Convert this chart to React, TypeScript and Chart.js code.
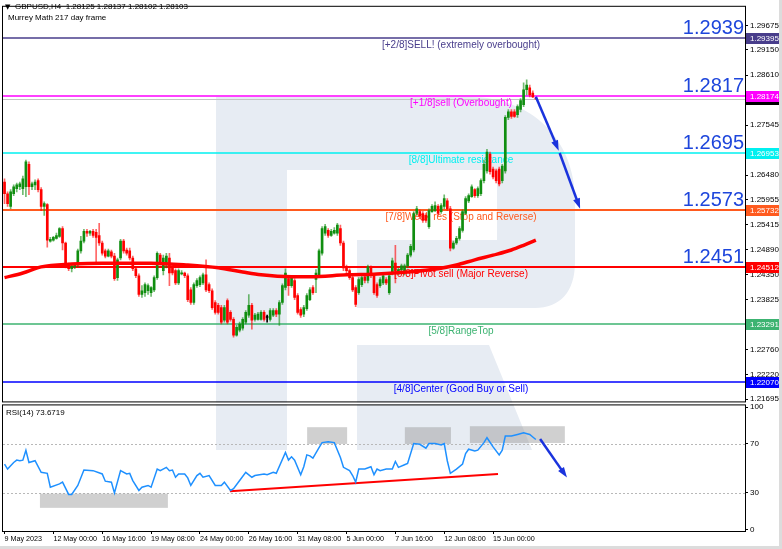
import React, { useEffect, useRef } from 'react';
import { Chart, registerables } from 'chart.js';

Chart.register(...registerables);

// ---------------- data ----------------
const symbolTitle = 'GBPUSD,H4  1.28125 1.28137 1.28102 1.28103';
const indicatorTitle = 'Murrey Math 217 day frame';
const rsiTitle = 'RSI(14) 73.6719';

const timeLabels = ['9 May 2023', '12 May 00:00', '16 May 16:00', '19 May 08:00', '24 May 00:00', '26 May 16:00', '31 May 08:00', '5 Jun 00:00', '7 Jun 16:00', '12 Jun 08:00', '15 Jun 00:00'];
const labelStep = 16;
const slotCount = 243;

const open = [
  1.2633, 1.2608, 1.2581, 1.2608, 1.2619, 1.2623, 1.2619, 1.2623, 1.2671, 1.2623,
  1.2627, 1.2636, 1.2617, 1.2581, 1.2585, 1.2507, 1.2509, 1.2513, 1.2517, 1.2534,
  1.2503, 1.2456, 1.2448, 1.2452, 1.2456, 1.2486, 1.2507, 1.2528, 1.2524, 1.2528,
  1.2526, 1.2519, 1.2503, 1.2486, 1.2475, 1.2484, 1.2475, 1.2429, 1.2471, 1.2507,
  1.2488, 1.2486, 1.2471, 1.2448, 1.2433, 1.2393, 1.2397, 1.2401, 1.2397, 1.2403,
  1.2429, 1.2477, 1.2444, 1.2456, 1.2471, 1.2450, 1.2444, 1.2418, 1.2437, 1.2439,
  1.2433, 1.2403, 1.2376, 1.2412, 1.2414, 1.2418, 1.2435, 1.2414, 1.2401, 1.2376,
  1.2370, 1.2365, 1.2338, 1.2380, 1.2355, 1.2340, 1.2306, 1.2317, 1.2321, 1.2334,
  1.2349, 1.2370, 1.2340, 1.2340, 1.2340, 1.2355, 1.2344, 1.2340, 1.2349, 1.2359,
  1.2351, 1.2376, 1.2408, 1.2427, 1.2412, 1.2423, 1.2391, 1.2361, 1.2351, 1.2363,
  1.2382, 1.2408, 1.2425, 1.2433, 1.2481, 1.2524, 1.2530, 1.2519, 1.2524, 1.2524,
  1.2534, 1.2503, 1.2450, 1.2444, 1.2429, 1.2408, 1.2397, 1.2414, 1.2431, 1.2423,
  1.2450, 1.2433, 1.2414, 1.2412, 1.2418, 1.2425, 1.2397, 1.2439, 1.2460, 1.2439,
  1.2446, 1.2439, 1.2454, 1.2477, 1.2488, 1.2566, 1.2570, 1.2566, 1.2562, 1.2538,
  1.2570, 1.2572, 1.2581, 1.2570, 1.2581, 1.2593, 1.2576, 1.2492, 1.2503, 1.2513,
  1.2530, 1.2566, 1.2593, 1.2602, 1.2617, 1.2604, 1.2608, 1.2636, 1.2657, 1.2693,
  1.2661, 1.2657, 1.2661, 1.2636, 1.2657, 1.2771, 1.2783, 1.2783, 1.2777, 1.2788,
  1.2798, 1.2830, 1.2834, 1.2823, 1.28125,
];
const high = [
  1.2640, 1.2612, 1.2617, 1.2627, 1.2631, 1.2633, 1.2646, 1.2680, 1.2676, 1.2633,
  1.2638, 1.2640, 1.2621, 1.2591, 1.2587, 1.2515, 1.2517, 1.2524, 1.2536, 1.2538,
  1.2505, 1.2460, 1.2456, 1.2460, 1.2490, 1.2517, 1.2532, 1.2532, 1.2530, 1.2532,
  1.2532, 1.2545, 1.2507, 1.2490, 1.2490, 1.2488, 1.2481, 1.2471, 1.2511, 1.2511,
  1.2492, 1.2492, 1.2475, 1.2452, 1.2437, 1.2412, 1.2418, 1.2416, 1.2410, 1.2433,
  1.2484, 1.2481, 1.2477, 1.2481, 1.2481, 1.2454, 1.2448, 1.2448, 1.2444, 1.2441,
  1.2437, 1.2408, 1.2418, 1.2427, 1.2433, 1.2439, 1.2467, 1.2418, 1.2405, 1.2380,
  1.2374, 1.2370, 1.2370, 1.2384, 1.2359, 1.2344, 1.2327, 1.2334, 1.2344, 1.2359,
  1.2393, 1.2374, 1.2353, 1.2355, 1.2359, 1.2359, 1.2349, 1.2363, 1.2363, 1.2363,
  1.2380, 1.2416, 1.2448, 1.2431, 1.2433, 1.2427, 1.2395, 1.2365, 1.2370, 1.2395,
  1.2408, 1.2412, 1.2446, 1.2490, 1.2538, 1.2543, 1.2534, 1.2532, 1.2536, 1.2545,
  1.2541, 1.2507, 1.2456, 1.2448, 1.2433, 1.2412, 1.2429, 1.2433, 1.2435, 1.2456,
  1.2454, 1.2437, 1.2418, 1.2429, 1.2437, 1.2429, 1.2437, 1.2471, 1.2498, 1.2450,
  1.2458, 1.2458, 1.2481, 1.2500, 1.2570, 1.2581, 1.2574, 1.2570, 1.2566, 1.2576,
  1.2585, 1.2591, 1.2585, 1.2587, 1.2606, 1.2598, 1.2581, 1.2507, 1.2517, 1.2538,
  1.2574, 1.2602, 1.2608, 1.2627, 1.2619, 1.2623, 1.2640, 1.2680, 1.2703, 1.2697,
  1.2665, 1.2661, 1.2665, 1.2671, 1.2775, 1.2788, 1.2788, 1.2788, 1.2798, 1.2811,
  1.2845, 1.2851, 1.2840, 1.2828, 1.28137,
];
const low = [
  1.2587, 1.2581, 1.2576, 1.2604, 1.2612, 1.2617, 1.2606, 1.2602, 1.2606, 1.2617,
  1.2617, 1.2612, 1.2572, 1.2562, 1.2494, 1.2505, 1.2507, 1.2511, 1.2515, 1.2488,
  1.2450, 1.2444, 1.2441, 1.2448, 1.2452, 1.2481, 1.2503, 1.2517, 1.2519, 1.2515,
  1.2460, 1.2498, 1.2477, 1.2471, 1.2473, 1.2471, 1.2423, 1.2423, 1.2467, 1.2481,
  1.2477, 1.2467, 1.2444, 1.2429, 1.2389, 1.2387, 1.2389, 1.2393, 1.2389, 1.2399,
  1.2425, 1.2456, 1.2435, 1.2450, 1.2412, 1.2435, 1.2414, 1.2414, 1.2435, 1.2429,
  1.2378, 1.2372, 1.2372, 1.2408, 1.2410, 1.2414, 1.2399, 1.2397, 1.2361, 1.2351,
  1.2351, 1.2330, 1.2334, 1.2330, 1.2336, 1.2302, 1.2304, 1.2313, 1.2317, 1.2330,
  1.2344, 1.2319, 1.2336, 1.2338, 1.2338, 1.2336, 1.2334, 1.2336, 1.2346, 1.2346,
  1.2327, 1.2372, 1.2403, 1.2391, 1.2408, 1.2382, 1.2351, 1.2344, 1.2346, 1.2359,
  1.2380, 1.2393, 1.2397, 1.2429, 1.2477, 1.2519, 1.2515, 1.2517, 1.2522, 1.2519,
  1.2498, 1.2444, 1.2439, 1.2425, 1.2399, 1.2367, 1.2393, 1.2410, 1.2418, 1.2418,
  1.2429, 1.2393, 1.2387, 1.2408, 1.2414, 1.2414, 1.2393, 1.2435, 1.2418, 1.2435,
  1.2444, 1.2435, 1.2450, 1.2473, 1.2484, 1.2562, 1.2555, 1.2547, 1.2547, 1.2534,
  1.2568, 1.2570, 1.2562, 1.2566, 1.2576, 1.2572, 1.2486, 1.2490, 1.2500, 1.2509,
  1.2526, 1.2564, 1.2589, 1.2600, 1.2600, 1.2600, 1.2604, 1.2631, 1.2652, 1.2650,
  1.2640, 1.2631, 1.2625, 1.2631, 1.2652, 1.2766, 1.2769, 1.2771, 1.2771, 1.2783,
  1.2794, 1.2819, 1.2815, 1.2813, 1.28102,
];
const close = [
  1.2608, 1.2587, 1.2612, 1.2623, 1.2627, 1.2629, 1.2640, 1.2676, 1.2623, 1.2629,
  1.2633, 1.2617, 1.2581, 1.2587, 1.2509, 1.2511, 1.2515, 1.2519, 1.2534, 1.2503,
  1.2456, 1.2448, 1.2454, 1.2458, 1.2486, 1.2507, 1.2528, 1.2524, 1.2528, 1.2519,
  1.2515, 1.2503, 1.2481, 1.2475, 1.2486, 1.2475, 1.2427, 1.2467, 1.2507, 1.2486,
  1.2481, 1.2471, 1.2448, 1.2433, 1.2393, 1.2401, 1.2414, 1.2412, 1.2408, 1.2429,
  1.2481, 1.2462, 1.2471, 1.2475, 1.2439, 1.2439, 1.2418, 1.2444, 1.2439, 1.2433,
  1.2382, 1.2376, 1.2414, 1.2423, 1.2429, 1.2435, 1.2403, 1.2401, 1.2365, 1.2355,
  1.2355, 1.2334, 1.2365, 1.2334, 1.2340, 1.2306, 1.2323, 1.2330, 1.2340, 1.2355,
  1.2370, 1.2338, 1.2349, 1.2351, 1.2355, 1.2340, 1.2344, 1.2359, 1.2359, 1.2351,
  1.2376, 1.2412, 1.2439, 1.2412, 1.2429, 1.2387, 1.2355, 1.2349, 1.2365, 1.2391,
  1.2403, 1.2397, 1.2439, 1.2486, 1.2534, 1.2538, 1.2519, 1.2528, 1.2530, 1.2541,
  1.2503, 1.2450, 1.2444, 1.2429, 1.2403, 1.2372, 1.2425, 1.2429, 1.2423, 1.2452,
  1.2433, 1.2397, 1.2391, 1.2425, 1.2433, 1.2418, 1.2433, 1.2465, 1.2444, 1.2446,
  1.2454, 1.2454, 1.2477, 1.2496, 1.2566, 1.2576, 1.2560, 1.2551, 1.2551, 1.2572,
  1.2581, 1.2583, 1.2566, 1.2583, 1.2598, 1.2576, 1.2492, 1.2503, 1.2513, 1.2534,
  1.2570, 1.2598, 1.2604, 1.2623, 1.2604, 1.2619, 1.2636, 1.2671, 1.2697, 1.2655,
  1.2644, 1.2636, 1.2629, 1.2667, 1.2771, 1.2783, 1.2773, 1.2773, 1.2794, 1.2807,
  1.2830, 1.2840, 1.2819, 1.2815, 1.28103,
];

// moving average (read at selected bars)
const maBars = [0, 6, 12, 22, 32, 48, 60, 70, 78, 84, 94, 100, 112, 122, 132, 142, 148, 154, 160, 166, 170, 174];
const maValues = [1.2429, 1.2439, 1.2452, 1.2458, 1.2460, 1.2460, 1.2456, 1.2450, 1.2441, 1.2435, 1.2431, 1.2431, 1.2435, 1.2437, 1.2441, 1.2448, 1.2456, 1.2467, 1.2477, 1.2488, 1.2498, 1.2509];

// RSI(14) (read at selected bars)
const rsiBars = [0, 1, 3, 4, 5, 6, 7, 8, 10, 12, 14, 15, 18, 19, 21, 22, 24, 26, 29, 32, 33, 35, 36, 38, 40, 41, 42, 44, 45, 47, 48, 50, 51, 53, 54, 55, 56, 57, 59, 60, 61, 63, 64, 65, 67, 69, 71, 72, 74, 75, 77, 79, 81, 82, 85, 86, 88, 89, 92, 93, 94, 95, 97, 98, 99, 100, 101, 103, 104, 106, 108, 110, 111, 113, 114, 115, 116, 118, 120, 121, 122, 123, 125, 127, 128, 129, 131, 132, 134, 136, 138, 139, 141, 143, 144, 145, 146, 148, 150, 151, 152, 154, 155, 157, 158, 160, 162, 163, 164, 166, 168, 170, 172, 173, 174];
const rsiValues = [53.6, 49.5, 54.9, 56.8, 56.3, 56.8, 64.9, 54.9, 56.3, 46.8, 46.0, 34.7, 37.4, 38.8, 28.8, 28.8, 36.1, 48.7, 48.2, 45.5, 39.6, 38.8, 29.9, 48.2, 45.5, 46.0, 40.1, 32.0, 34.7, 36.1, 34.7, 49.5, 48.2, 50.9, 48.2, 48.7, 42.8, 45.5, 45.5, 42.3, 36.1, 44.2, 46.0, 42.8, 44.2, 36.1, 36.1, 38.8, 32.0, 33.4, 40.1, 46.8, 42.8, 44.2, 45.5, 44.9, 46.8, 46.0, 63.0, 56.8, 59.5, 56.8, 44.9, 51.4, 61.1, 60.3, 58.4, 67.0, 71.1, 71.9, 71.1, 59.0, 50.9, 48.2, 44.2, 38.8, 49.5, 49.5, 51.4, 44.9, 49.5, 48.2, 49.5, 49.5, 55.7, 50.9, 53.0, 54.1, 70.3, 69.7, 66.5, 70.3, 70.3, 69.2, 70.3, 56.3, 46.0, 49.5, 53.6, 62.2, 65.7, 64.3, 64.9, 71.1, 75.1, 67.6, 61.1, 64.9, 76.5, 76.5, 77.8, 79.2, 77.8, 75.7, 73.67];

// Murrey Math levels
const murreyLevels = [1.29395, 1.28174, 1.26953, 1.25732, 1.24512, 1.23291, 1.2207];
const murreyTexts = ['[+2/8]SELL! (extremely overbought)', '[+1/8]sell (Overbought)', '[8/8]Ultimate resistance', '[7/8]Weak res (Stop and Reverse)', '[6/8]Pivot sell (Major Reverse)', '[5/8]RangeTop', '[4/8]Center (Good Buy or Sell)'];
const murreyColors = ['#483d8b', '#ff00ff', '#00f0f0', '#ff5a1e', '#ff0000', '#3cb371', '#0000ff'];
const murreyWidths = [1.5, 1.5, 1.5, 2, 2, 1.5, 1.5];
const bigLevelLabels = ['1.2939', '1.2817', '1.2695', '1.2573', '1.2451'];
const lastPrice = 1.28103;
const textAnchorBar = 149.5;

const priceTicks = [1.29675, 1.2915, 1.2861, 1.27545, 1.2648, 1.25955, 1.25415, 1.2489, 1.2435, 1.23825, 1.2276, 1.2222, 1.21695];
const rsiTicks = [0, 30, 70, 100];
const rsiGuides = [70, 30];

// annotations: [bar1, value1, bar2, value2]
const priceArrows = [[174.0, 1.2815, 181.5, 1.27], [181.8, 1.2695, 188.5, 1.2576]];
const rsiArrow = [175.4, 74.0, 184.2, 42.5];
const rsiTrend = [73.8, 31.4, 161.6, 45.5];
// [bar1, bar2, valueLow, valueHigh]
const rsiBoxes = [[11.6, 53.5, 17.8, 29.4], [99.1, 112.2, 70, 83.7], [131.1, 146.2, 70, 83.7], [152.4, 183.5, 70.8, 84.5]];

const FONT = '"Liberation Sans", Arial, sans-serif';
const UP = '#108e10';
const DOWN = '#ff0000';

function drawArrow(ctx: any, x1: number, y1: number, x2: number, y2: number) {
  const ang = Math.atan2(y2 - y1, x2 - x1);
  const head = 11;
  ctx.strokeStyle = '#1a33dd';
  ctx.fillStyle = '#1a33dd';
  ctx.lineWidth = 2.5;
  ctx.beginPath();
  ctx.moveTo(x1, y1);
  ctx.lineTo(x2 - head * 0.8 * Math.cos(ang), y2 - head * 0.8 * Math.sin(ang));
  ctx.stroke();
  ctx.beginPath();
  ctx.moveTo(x2, y2);
  ctx.lineTo(x2 - head * Math.cos(ang - 0.33), y2 - head * Math.sin(ang - 0.33));
  ctx.lineTo(x2 - head * Math.cos(ang + 0.33), y2 - head * Math.sin(ang + 0.33));
  ctx.closePath();
  ctx.fill();
}

const decorPlugin = {
  id: 'mtDecor',
  beforeDraw(chart: any) {
    const { ctx, width, height, chartArea: a } = chart;
    ctx.save();
    ctx.fillStyle = '#ffffff';
    ctx.fillRect(0, 0, width, height);
    ctx.beginPath();
    ctx.rect(a.left, a.top, a.right - a.left, a.bottom - a.top);
    ctx.clip();
    // background watermark logo
    ctx.fillStyle = '#e7ecf3';
    ctx.beginPath();
    ctx.moveTo(216, 97);
    ctx.lineTo(470, 97);
    ctx.bezierCurveTo(532, 97, 575, 140, 575, 200);
    ctx.lineTo(575, 262);
    ctx.bezierCurveTo(575, 292, 560, 308, 535, 308);
    ctx.lineTo(357, 308);
    ctx.lineTo(357, 240);
    ctx.lineTo(497, 240);
    ctx.lineTo(497, 170);
    ctx.lineTo(287, 170);
    ctx.lineTo(287, 450);
    ctx.lineTo(216, 450);
    ctx.closePath();
    ctx.fill();
    ctx.beginPath();
    ctx.moveTo(357, 345);
    ctx.lineTo(489, 345);
    ctx.lineTo(532, 450);
    ctx.lineTo(357, 450);
    ctx.closePath();
    ctx.fill();
    ctx.restore();
  },
  beforeDatasetsDraw(chart: any) {
    const { ctx, chartArea: a, scales } = chart;
    const xs = scales.x, ys = scales.y, rs = scales.yRsi;
    ctx.save();
    // current price line
    const yp = Math.round(ys.getPixelForValue(lastPrice)) + 0.5;
    ctx.strokeStyle = '#c4c4c4';
    ctx.lineWidth = 1;
    ctx.beginPath();
    ctx.moveTo(a.left, yp);
    ctx.lineTo(a.right, yp);
    ctx.stroke();
    // Murrey lines and captions
    murreyLevels.forEach((lv, k) => {
      const py = Math.round(ys.getPixelForValue(lv));
      ctx.strokeStyle = murreyColors[k];
      ctx.lineWidth = murreyWidths[k];
      ctx.beginPath();
      ctx.moveTo(a.left, py);
      ctx.lineTo(a.right, py);
      ctx.stroke();
      ctx.fillStyle = murreyColors[k];
      ctx.font = '10px ' + FONT;
      ctx.textAlign = 'center';
      ctx.textBaseline = 'top';
      ctx.fillText(murreyTexts[k], xs.getPixelForValue(textAnchorBar), py + 2);
      if (k < bigLevelLabels.length) {
        ctx.font = '20px ' + FONT;
        ctx.fillStyle = '#1e46dc';
        ctx.textAlign = 'right';
        ctx.textBaseline = 'alphabetic';
        ctx.fillText(bigLevelLabels[k], a.right - 1, py - 4);
      }
    });
    // RSI guides
    ctx.setLineDash([2, 2]);
    ctx.strokeStyle = '#b8b8b8';
    ctx.lineWidth = 1;
    rsiGuides.forEach((v) => {
      const py = Math.round(rs.getPixelForValue(v)) + 0.5;
      ctx.beginPath();
      ctx.moveTo(a.left, py);
      ctx.lineTo(a.right, py);
      ctx.stroke();
    });
    ctx.setLineDash([]);
    // RSI boxes
    ctx.fillStyle = 'rgba(150,150,150,0.45)';
    rsiBoxes.forEach(([b1, b2, v1, v2]) => {
      const x1 = xs.getPixelForValue(b1), x2 = xs.getPixelForValue(b2);
      const y1 = rs.getPixelForValue(v2), y2 = rs.getPixelForValue(v1);
      ctx.fillRect(x1, y1, x2 - x1, y2 - y1);
    });
    // RSI trend line
    ctx.strokeStyle = '#ff0000';
    ctx.lineWidth = 2;
    ctx.beginPath();
    ctx.moveTo(xs.getPixelForValue(rsiTrend[0]), rs.getPixelForValue(rsiTrend[1]));
    ctx.lineTo(xs.getPixelForValue(rsiTrend[2]), rs.getPixelForValue(rsiTrend[3]));
    ctx.stroke();
    ctx.restore();
  },
  afterDatasetsDraw(chart: any) {
    const { ctx, scales } = chart;
    const xs = scales.x, ys = scales.y, rs = scales.yRsi;
    ctx.save();
    priceArrows.forEach(([b1, v1, b2, v2]) => {
      drawArrow(ctx, xs.getPixelForValue(b1), ys.getPixelForValue(v1), xs.getPixelForValue(b2), ys.getPixelForValue(v2));
    });
    drawArrow(ctx, xs.getPixelForValue(rsiArrow[0]), rs.getPixelForValue(rsiArrow[1]), xs.getPixelForValue(rsiArrow[2]), rs.getPixelForValue(rsiArrow[3]));
    ctx.restore();
  },
  afterDraw(chart: any) {
    const { ctx, chartArea: a, scales, width, height } = chart;
    const ys = scales.y, rs = scales.yRsi;
    ctx.save();
    // panel separator gap
    ctx.fillStyle = '#ffffff';
    ctx.fillRect(0, ys.bottom - 1, a.right + 1, 2);
    // frames
    ctx.strokeStyle = '#000000';
    ctx.lineWidth = 1;
    const mainTop = a.top - 0.5;
    const mainBottom = ys.bottom - 1.5;
    const rsiTop = rs.top + 1.5;
    const rsiBottom = rs.bottom + 0.5;
    ctx.strokeRect(a.left - 0.5, mainTop, a.right - a.left + 1, mainBottom - mainTop);
    ctx.strokeRect(a.left - 0.5, rsiTop, a.right - a.left + 1, rsiBottom - rsiTop);
    // window edges
    ctx.fillStyle = '#dcdcdc';
    ctx.fillRect(width - 3, 0, 3, height);
    ctx.fillRect(0, height - 3, width, 3);
    // price-axis tags
    const tag = (value: number, color: string) => {
      const py = ys.getPixelForValue(value);
      ctx.fillStyle = color;
      ctx.fillRect(ys.left + 1, Math.round(py) - 5, width - ys.left - 4, 11);
      ctx.fillStyle = '#ffffff';
      ctx.font = '8px ' + FONT;
      ctx.textAlign = 'left';
      ctx.textBaseline = 'middle';
      ctx.fillText(value.toFixed(5), ys.left + 5, Math.round(py) + 0.5);
    };
    tag(lastPrice, '#000000');
    murreyLevels.forEach((lv, k) => tag(lv, murreyColors[k]));
    // titles
    ctx.fillStyle = '#000000';
    ctx.textAlign = 'left';
    ctx.textBaseline = 'middle';
    ctx.font = '7px "DejaVu Sans", sans-serif';
    ctx.fillText('\u25BC', a.left + 2, 7);
    ctx.font = '8px ' + FONT;
    ctx.fillText(symbolTitle, a.left + 12, 7);
    ctx.fillText(indicatorTitle, a.left + 5, 18);
    ctx.fillText(rsiTitle, a.left + 3, rs.top + 9);
    ctx.restore();
  },
};

export default function App() {
  const ref = useRef<HTMLCanvasElement>(null);
  useEffect(() => {
    document.body.style.margin = '0';
    const canvas = ref.current as HTMLCanvasElement;
    const labels = Array.from({ length: slotCount }, (_, i) =>
      i % labelStep === 0 && i / labelStep < timeLabels.length ? timeLabels[i / labelStep] : ''
    );
    const wickData = low.map((l, i) => [l, high[i]]);
    const bodyData = open.map((o, i) => [o, close[i]]);
    const bodyColors = open.map((o, i) => (close[i] > o ? UP : close[i] < o ? DOWN : '#000000'));
    const wickColors = open.map((o, i) => (close[i] > o ? 'rgba(16,142,16,0.6)' : close[i] < o ? 'rgba(255,0,0,0.6)' : '#000000'));
    const maData: (number | null)[] = labels.map(() => null);
    maBars.forEach((b, j) => { maData[b] = maValues[j]; });
    const rsiData: (number | null)[] = labels.map(() => null);
    rsiBars.forEach((b, j) => { rsiData[b] = rsiValues[j]; });

    const tickFont = { family: FONT, size: 8 };
    const chart = new Chart(canvas, {
      type: 'bar',
      data: {
        labels,
        datasets: [
          {
            type: 'line',
            label: 'MA',
            data: maData,
            yAxisID: 'y',
            borderColor: '#ff0000',
            borderWidth: 3.5,
            pointRadius: 0,
            spanGaps: true,
            cubicInterpolationMode: 'monotone',
            order: 0,
          },
          {
            type: 'bar',
            label: 'body',
            data: bodyData,
            yAxisID: 'y',
            backgroundColor: bodyColors,
            barThickness: 2,
            minBarLength: 1,
            grouped: false,
            order: 1,
          },
          {
            type: 'bar',
            label: 'wick',
            data: wickData,
            yAxisID: 'y',
            backgroundColor: wickColors,
            barThickness: 1,
            grouped: false,
            order: 2,
          },
          {
            type: 'line',
            label: 'RSI',
            data: rsiData,
            yAxisID: 'yRsi',
            borderColor: '#1e90ff',
            borderWidth: 1.5,
            pointRadius: 0,
            spanGaps: true,
            tension: 0,
            order: 0,
          },
        ],
      } as any,
      options: {
        animation: false,
        responsive: false,
        maintainAspectRatio: false,
        devicePixelRatio: 1,
        events: [],
        layout: { padding: { left: 3, top: 1, right: 0, bottom: 0 }, autoPadding: false },
        plugins: { legend: { display: false }, tooltip: { enabled: false } },
        scales: {
          x: {
            type: 'category',
            offset: true,
            border: { display: false },
            grid: { display: true, drawOnChartArea: false, drawTicks: true, tickLength: 3, color: '#000000', offset: false },
            ticks: { autoSkip: false, maxRotation: 0, minRotation: 0, align: 'start', font: { family: FONT, size: 7.2 }, color: '#000000', padding: 1 },
            afterBuildTicks: (axis: any) => {
              axis.ticks = axis.ticks.filter((t: any) => labels[t.value] !== '');
            },
            afterFit: (axis: any) => { axis.height = 18; },
          },
          y: {
            type: 'linear',
            position: 'right',
            stack: 'panes',
            stackWeight: 401,
            weight: 0,
            min: 1.21606,
            max: 1.30071,
            border: { display: false },
            grid: { display: true, drawOnChartArea: false, drawTicks: true, tickLength: 3, color: '#000000' },
            ticks: { font: tickFont, color: '#000000', padding: 2, callback: (v: any) => Number(v).toFixed(5) },
            afterBuildTicks: (axis: any) => { axis.ticks = priceTicks.map((v) => ({ value: v })); },
            afterFit: (axis: any) => { axis.width = 37; },
          },
          yRsi: {
            type: 'linear',
            position: 'right',
            stack: 'panes',
            stackWeight: 129,
            weight: 1,
            min: -1.11,
            max: 103.13,
            border: { display: false },
            grid: { display: true, drawOnChartArea: false, drawTicks: true, tickLength: 3, color: '#000000' },
            ticks: { font: tickFont, color: '#000000', padding: 2, callback: (v: any) => String(v) },
            afterBuildTicks: (axis: any) => { axis.ticks = rsiTicks.map((v) => ({ value: v })); },
            afterFit: (axis: any) => { axis.width = 37; },
          },
        },
      } as any,
      plugins: [decorPlugin],
    });
    return () => chart.destroy();
  }, []);
  return (
    <canvas
      ref={ref}
      width={782}
      height={549}
      style={{ display: 'block', width: 782, height: 549, position: 'absolute', left: 0, top: 0 }}
    />
  );
}
